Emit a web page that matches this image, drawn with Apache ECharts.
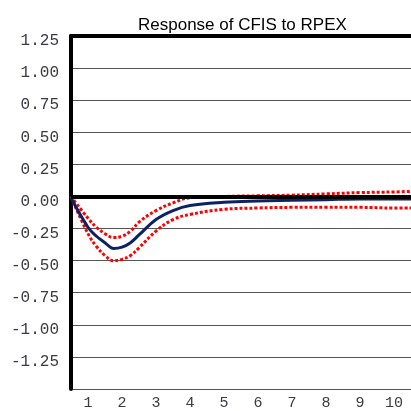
<!DOCTYPE html>
<html>
<head>
<meta charset="utf-8">
<script src="https://cdn.jsdelivr.net/npm/echarts@6/dist/echarts.min.js"></script>
<style>
  html, body { margin: 0; padding: 0; background: #fff; }
  #chart { width: 411px; height: 411px; }
</style>
</head>
<body>
<div id="chart"></div>
<script>
// Impulse response of CFIS to a shock in RPEX, with +/- 2 S.E. bands
const periodLabels = ['1', '2', '3', '4', '5', '6', '7', '8', '9', '10'];
const steps = [0.5, 1, 1.25, 1.5, 1.75, 2, 2.25, 2.5, 3, 3.5, 4, 5, 6, 7, 8, 9, 10, 10.5];
const response = [-0.01, -0.24, -0.31, -0.36, -0.405, -0.395, -0.36, -0.30, -0.18, -0.11, -0.07, -0.045, -0.035, -0.03, -0.025, -0.02, -0.02, -0.02];
const upperBand = [0.0, -0.17, -0.24, -0.29, -0.32, -0.31, -0.27, -0.20, -0.11, -0.05, -0.01, 0.0, 0.005, 0.01, 0.02, 0.03, 0.035, 0.04];
const lowerBand = [-0.005, -0.29, -0.39, -0.46, -0.50, -0.49, -0.46, -0.40, -0.27, -0.18, -0.14, -0.10, -0.09, -0.085, -0.085, -0.085, -0.09, -0.09];
const yTicks = { min: -1.5, max: 1.25, step: 0.25 };

const pair = (ys) => steps.map((x, i) => [x, ys[i]]);
const mono = 'Liberation Mono, DejaVu Sans Mono, monospace';

const chart = echarts.init(document.getElementById('chart'));
chart.setOption({
  animation: false,
  title: {
    text: 'Response of CFIS to RPEX',
    left: 133,
    top: 12,
    textStyle: { fontFamily: 'Liberation Sans, Arial, sans-serif', fontSize: 17, fontWeight: 'normal', color: '#000' }
  },
  grid: { left: 71, top: 36, right: 0, bottom: 20, show: false },
  xAxis: [
    {
      type: 'category',
      data: periodLabels,
      boundaryGap: true,
      axisLine: { show: true, lineStyle: { color: '#000', width: 4 } },
      axisTick: { show: false },
      splitLine: { show: false },
      axisLabel: { fontFamily: mono, fontSize: 15, color: '#3a3a44', margin: 7 }
    },
    {
      type: 'value',
      min: 0.5,
      max: 10.5,
      position: 'top',
      axisLine: { show: true, lineStyle: { color: '#000', width: 4 } },
      axisTick: { show: false },
      axisLabel: { show: false },
      splitLine: { show: false }
    }
  ],
  yAxis: {
    type: 'value',
    min: yTicks.min,
    max: yTicks.max,
    interval: yTicks.step,
    axisLine: { show: true, lineStyle: { color: '#000', width: 4 } },
    axisTick: { show: false },
    splitLine: { show: true, lineStyle: { color: '#555', width: 1 } },
    axisLabel: {
      fontFamily: mono,
      fontSize: 16,
      color: '#3a3a44',
      margin: 12,
      verticalAlign: 'top',
      lineHeight: 10,
      formatter: (v) => (v <= yTicks.min + 1e-9 ? '' : v.toFixed(2))
    }
  },
  series: [
    {
      name: 'zero',
      type: 'line',
      xAxisIndex: 1,
      data: [],
      z: 1,
      silent: true,
      markLine: {
        silent: true,
        symbol: ['none', 'none'],
        label: { show: false },
        lineStyle: { color: '#000', width: 4, type: 'solid' },
        data: [{ yAxis: 0 }]
      }
    },
    {
      name: 'Upper',
      type: 'line',
      xAxisIndex: 1,
      data: pair(upperBand),
      smooth: 0.4,
      showSymbol: false,
      z: 3,
      lineStyle: { color: '#ff0000', width: 3, type: [3, 2], cap: 'butt' }
    },
    {
      name: 'Lower',
      type: 'line',
      xAxisIndex: 1,
      data: pair(lowerBand),
      smooth: 0.4,
      showSymbol: false,
      z: 3,
      lineStyle: { color: '#ff0000', width: 3, type: [3, 2], cap: 'butt' }
    },
    {
      name: 'Response',
      type: 'line',
      xAxisIndex: 1,
      data: pair(response),
      smooth: 0.4,
      showSymbol: false,
      z: 4,
      lineStyle: { color: '#0b2265', width: 3 }
    }
  ]
});
</script>
</body>
</html>
